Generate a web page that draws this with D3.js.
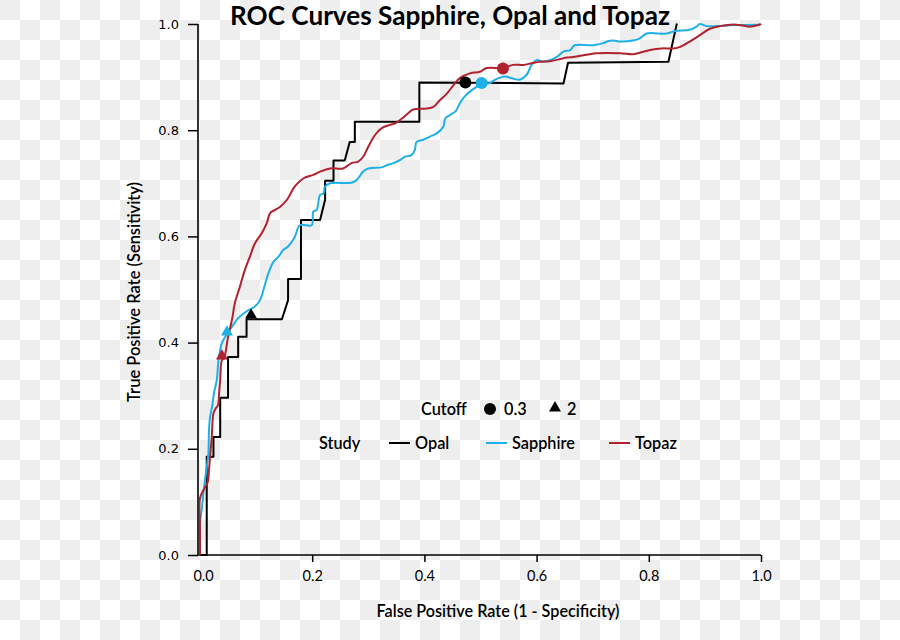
<!DOCTYPE html>
<html>
<head>
<meta charset="utf-8">
<script src="https://cdn.jsdelivr.net/npm/d3@7"></script>
<style>
html,body{margin:0;padding:0;background:#fff;}
svg{display:block;}
</style>
</head>
<body>
<svg id="chart" width="900" height="640"></svg>
<script>
// ---- data ----
const studies = ["Opal", "Sapphire", "Topaz"];
const colors = ["#000000", "#1eb0e6", "#b2222e"];
const cutoffs = ["0.3", "2"];

const opalFPR = [0,0.012,0.012,0.024,0.024,0.036,0.036,0.050,0.050,0.068,0.068,0.083,0.083,0.146,0.157,0.157,0.180,0.180,0.214,0.223,0.223,0.238,0.238,0.258,0.267,0.276,0.276,0.391,0.391,0.648,0.656,0.835,0.850];
const opalTPR = [0,0,0.185,0.185,0.222,0.222,0.296,0.296,0.373,0.373,0.411,0.411,0.444,0.444,0.480,0.520,0.520,0.631,0.631,0.669,0.705,0.705,0.743,0.743,0.778,0.778,0.816,0.816,0.890,0.888,0.927,0.929,1.001];

const sapphireFPR = [0,0,0,0.003,0.006,0.009,0.012,0.015,0.016,0.018,0.022,0.025,0.030,0.033,0.039,0.049,0.057,0.068,0.086,0.098,0.107,0.113,0.122,0.131,0.140,0.148,0.157,0.169,0.178,0.199,0.202,0.208,0.214,0.220,0.223,0.232,0.270,0.279,0.291,0.300,0.324,0.333,0.345,0.357,0.365,0.377,0.383,0.386,0.398,0.410,0.422,0.434,0.437,0.446,0.455,0.461,0.467,0.474,0.485,0.495,0.502,0.514,0.526,0.532,0.544,0.556,0.570,0.582,0.591,0.600,0.612,0.624,0.636,0.648,0.660,0.668,0.701,0.719,0.728,0.737,0.749,0.772,0.784,0.796,0.832,0.847,0.873,0.885,0.891,0.903,0.921,0.951,0.998,1];
const sapphireTPR = [0,0.028,0.060,0.085,0.116,0.141,0.166,0.192,0.235,0.260,0.282,0.305,0.330,0.367,0.399,0.418,0.430,0.446,0.461,0.468,0.480,0.499,0.531,0.552,0.562,0.574,0.581,0.599,0.621,0.621,0.647,0.650,0.678,0.681,0.694,0.700,0.701,0.706,0.722,0.728,0.730,0.734,0.738,0.744,0.750,0.753,0.763,0.778,0.782,0.788,0.794,0.807,0.822,0.829,0.835,0.846,0.857,0.866,0.876,0.883,0.888,0.888,0.895,0.898,0.901,0.898,0.895,0.904,0.923,0.932,0.929,0.932,0.938,0.948,0.951,0.960,0.960,0.964,0.968,0.969,0.967,0.969,0.973,0.982,0.982,0.987,0.989,0.995,1.000,0.996,0.996,0.998,0.999,1];

const topazFPR = [0,0,0,0.006,0.014,0.016,0.018,0.021,0.024,0.028,0.032,0.034,0.036,0.039,0.043,0.050,0.057,0.062,0.071,0.080,0.089,0.098,0.110,0.119,0.125,0.134,0.143,0.155,0.169,0.184,0.202,0.214,0.232,0.255,0.270,0.282,0.291,0.300,0.312,0.324,0.339,0.348,0.360,0.371,0.380,0.404,0.416,0.428,0.440,0.452,0.463,0.481,0.499,0.511,0.541,0.558,0.576,0.591,0.606,0.624,0.642,0.654,0.665,0.689,0.707,0.749,0.772,0.784,0.802,0.823,0.844,0.856,0.873,0.891,0.909,0.927,0.951,0.968,0.980,0.998,1];
const topazTPR = [0,0.053,0.107,0.122,0.138,0.160,0.185,0.223,0.267,0.276,0.282,0.305,0.330,0.367,0.371,0.411,0.443,0.474,0.505,0.537,0.562,0.587,0.606,0.625,0.644,0.650,0.656,0.669,0.694,0.709,0.716,0.722,0.728,0.728,0.738,0.741,0.750,0.769,0.791,0.804,0.810,0.813,0.822,0.832,0.839,0.841,0.844,0.857,0.869,0.885,0.898,0.907,0.910,0.917,0.917,0.923,0.923,0.926,0.929,0.930,0.934,0.937,0.938,0.942,0.945,0.945,0.943,0.946,0.951,0.954,0.954,0.957,0.967,0.979,0.991,0.996,0.999,0.997,0.995,0.999,1];

// cutoff markers
const markerStudy = [0, 1, 2, 0, 1, 2];
const markerCutoff = [0, 0, 0, 1, 1, 1];
const markerFPR = [0.473, 0.502, 0.540, 0.091, 0.048, 0.039];
const markerTPR = [0.890, 0.889, 0.916, 0.450, 0.418, 0.373];

const xTicks = [0, 0.2, 0.4, 0.6, 0.8, 1.0];
const yTicks = [0, 0.2, 0.4, 0.6, 0.8, 1.0];

// ---- drawing ----
const svg = d3.select("#chart");
const W = 900, H = 640;
const defs = svg.append("defs");

// checkerboard background (transparency-style)
const bg = svg.append("g");
bg.append("rect").attr("width", W).attr("height", H).attr("fill", "#ffffff");
const cells = [];
for (let r = 0; r < H / 20; r++) for (let c = 0; c < W / 20; c++) if ((r + c) % 2 === 0) cells.push([c, r]);
bg.selectAll("rect.cell").data(cells).join("rect").attr("class", "cell")
  .attr("x", d => d[0] * 20).attr("y", d => d[1] * 20).attr("width", 20).attr("height", 20)
  .attr("fill", "#eeeeee");

const x = d3.scaleLinear().domain([0, 1]).range([200, 761]);
const y = d3.scaleLinear().domain([0, 1]).range([555, 24]);

const sansFont = "Lato, 'Open Sans', sans-serif";

// axes
const xAxis = svg.append("g").attr("transform", "translate(0,555)")
  .call(d3.axisBottom(x).tickValues(xTicks).tickSize(7).tickPadding(9).tickFormat(d3.format(".1f")));
xAxis.select(".domain").remove();
xAxis.selectAll(".tick").filter(d => d === 0).select("line").remove();
xAxis.selectAll(".tick line").attr("stroke", "#000").attr("stroke-width", 1.5);
xAxis.selectAll(".tick text").attr("font-family", sansFont).attr("font-size", 14.5).attr("fill", "#000")
  .attr("dx", d => d === 0 ? 3 : 0);
svg.append("line").attr("x1", 198).attr("x2", x(1)).attr("y1", y(0)).attr("y2", y(0))
  .attr("stroke", "#000").attr("stroke-width", 1.6);

const yAxis = svg.append("g").attr("transform", "translate(198,0)")
  .call(d3.axisLeft(y).tickValues(yTicks).tickSize(10).tickPadding(9).tickFormat(d3.format(".1f")));
yAxis.select(".domain").remove();
yAxis.selectAll(".tick line").attr("stroke", "#000").attr("stroke-width", 1.5);
yAxis.selectAll(".tick text").attr("font-family", "'DejaVu Sans', sans-serif").attr("font-size", 13).attr("fill", "#000");
svg.append("line").attr("x1", 198).attr("x2", 198).attr("y1", y(1)).attr("y2", y(0))
  .attr("stroke", "#000").attr("stroke-width", 1.6);

function fit(sel, target) {
  const w = sel.node().getComputedTextLength();
  const fs = parseFloat(sel.attr("font-size"));
  if (w > 0) sel.attr("font-size", fs * target / w);
  return sel;
}

// curves
const series = [
  {fpr: opalFPR, tpr: opalTPR},
  {fpr: sapphireFPR, tpr: sapphireTPR},
  {fpr: topazFPR, tpr: topazTPR}
];
const clip = defs.append("clipPath").attr("id", "plotclip");
clip.append("rect").attr("x", 199).attr("y", 15).attr("width", 570).attr("height", 541);

series.forEach((s, i) => {
  const pts = s.fpr.map((f, j) => [f, s.tpr[j]]);
  const line = d3.line().x(d => x(d[0])).y(d => y(d[1])).curve(i === 0 ? d3.curveLinear : d3.curveCatmullRom.alpha(0.5));
  svg.append("path").datum(pts).attr("d", line)
    .attr("fill", "none").attr("stroke", colors[i]).attr("stroke-width", 2)
    .attr("stroke-linejoin", "round")
    .attr("clip-path", i === 0 ? null : "url(#plotclip)");
});

// markers
const tri = d3.symbol().type(d3.symbolTriangle).size(62);
markerFPR.forEach((f, k) => {
  const cx = x(f), cy = y(markerTPR[k]);
  const col = colors[markerStudy[k]];
  if (markerCutoff[k] === 0) {
    svg.append("circle").attr("cx", cx).attr("cy", cy).attr("r", 6).attr("fill", col);
  } else {
    svg.append("path").attr("d", tri).attr("transform", `translate(${cx},${cy - 1})`).attr("fill", col);
  }
});

// title
fit(svg.append("text").attr("x", 450).attr("y", 25).attr("text-anchor", "middle")
  .attr("font-family", sansFont).attr("font-weight", 700).attr("font-size", 24).attr("fill", "#000")
  .text("ROC Curves Sapphire, Opal and Topaz"), 440);

// axis titles
fit(svg.append("text").attr("x", 498).attr("y", 617).attr("text-anchor", "middle")
  .attr("font-family", sansFont).attr("font-weight", 600).attr("font-size", 15).attr("fill", "#000")
  .text("False Positive Rate (1 - Specificity)"), 243);
fit(svg.append("text").attr("transform", "translate(140,292) rotate(-90)").attr("text-anchor", "middle")
  .attr("font-family", sansFont).attr("font-weight", 600).attr("font-size", 15).attr("fill", "#000")
  .text("True Positive Rate (Sensitivity)"), 220);

// legend
const lg = svg.append("g").attr("font-family", sansFont).attr("font-weight", 600).attr("fill", "#000").attr("font-size", 16.3);
lg.append("text").attr("x", 421).attr("y", 414.5).text("Cutoff");
lg.append("circle").attr("cx", 490).attr("cy", 409).attr("r", 6).attr("fill", "#000");
lg.append("text").attr("x", 504).attr("y", 414.5).text(cutoffs[0]);
lg.append("path").attr("d", tri).attr("transform", "translate(555,408)").attr("fill", "#000");
lg.append("text").attr("x", 567).attr("y", 414.5).text(cutoffs[1]);

lg.append("text").attr("x", 319).attr("y", 448.5).text("Study");
const legX = [389, 486, 609];
studies.forEach((s, i) => {
  lg.append("line").attr("x1", legX[i]).attr("x2", legX[i] + 21).attr("y1", 443).attr("y2", 443)
    .attr("stroke", colors[i]).attr("stroke-width", 2);
  lg.append("text").attr("x", legX[i] + 26).attr("y", 448.5).text(s);
});
</script>
</body>
</html>
